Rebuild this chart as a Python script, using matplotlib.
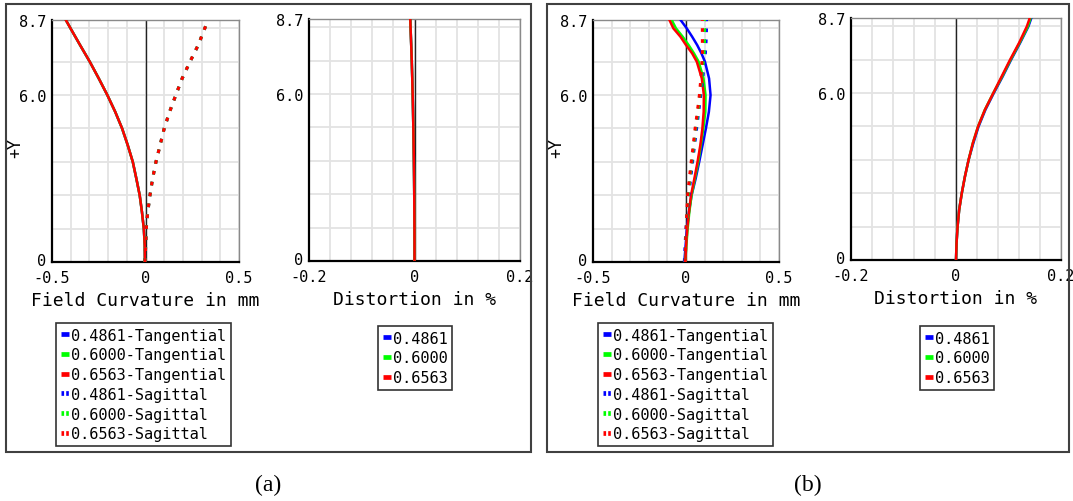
import matplotlib
matplotlib.use("Agg")
import matplotlib.pyplot as plt
from matplotlib.patches import Rectangle
from matplotlib.lines import Line2D
import matplotlib.transforms as mtransforms
import numpy as np

# ---------------- data ----------------
wavelengths = ["0.4861", "0.6000", "0.6563"]
colors = ["#0000ff", "#00ff00", "#ff0000"]

field_y = [0, 0.6, 1.2, 1.8, 2.4, 3.0, 3.6, 4.2, 4.8, 5.4, 6.0, 6.6, 7.2, 7.8, 8.4, 8.7]

# (a) field curvature (all wavelengths coincide)
a_tan = [-0.003, -0.004, -0.009, -0.019, -0.031, -0.049, -0.068, -0.095, -0.125,
         -0.162, -0.204, -0.250, -0.298, -0.350, -0.401, -0.426]
a_sag = [-0.003, 0.001, 0.004, 0.012, 0.024, 0.038, 0.056, 0.078, 0.100,
         0.129, 0.162, 0.196, 0.238, 0.282, 0.317, 0.335]
# (a) distortion (%)
a_dist = [0, 0, -0.0001, -0.0003, -0.0005, -0.0008, -0.0012, -0.0017, -0.0022,
          -0.0028, -0.0035, -0.0043, -0.0052, -0.0063, -0.0075, -0.008]

# (b) field curvature
b_y = [0, 0.6, 1.2, 1.8, 2.4, 3.0, 3.6, 4.2, 4.8, 5.4, 6.0, 6.6, 7.2, 7.5, 7.8, 8.1, 8.4, 8.7]
b_tan_blue = [-0.009, -0.002, 0.005, 0.016, 0.030, 0.052, 0.071, 0.089, 0.107, 0.123,
              0.132, 0.124, 0.102, 0.083, 0.060, 0.033, 0.004, -0.029]
b_tan_green = [-0.004, 0.002, 0.009, 0.018, 0.030, 0.048, 0.066, 0.080, 0.093, 0.104,
               0.105, 0.094, 0.068, 0.043, 0.014, -0.018, -0.054, -0.077]
b_tan_red = [-0.004, 0.001, 0.007, 0.016, 0.027, 0.045, 0.062, 0.077, 0.088, 0.095,
             0.096, 0.085, 0.058, 0.033, 0.000, -0.030, -0.068, -0.089]
b_sag_blue = [-0.009, -0.005, 0.000, 0.007, 0.015, 0.025, 0.035, 0.046, 0.057, 0.068,
              0.079, 0.090, 0.099, 0.104, 0.107, 0.109, 0.110, 0.110]
b_sag_green = [-0.004, -0.002, 0.002, 0.007, 0.012, 0.021, 0.031, 0.042, 0.052, 0.064,
               0.075, 0.085, 0.093, 0.097, 0.099, 0.100, 0.100, 0.100]
b_sag_red = [-0.004, -0.002, 0.001, 0.005, 0.009, 0.018, 0.028, 0.039, 0.049, 0.061,
             0.072, 0.080, 0.086, 0.088, 0.088, 0.088, 0.088, 0.088]
# (b) distortion (%)
b_dist_blue = [0, 0.001, 0.003, 0.006, 0.011, 0.017, 0.024, 0.033, 0.043, 0.056,
               0.072, 0.089, 0.105, 0.122, 0.138, 0.1435]
b_dist_green = [0, 0.001, 0.003, 0.006, 0.011, 0.017, 0.024, 0.032, 0.042, 0.055,
                0.071, 0.088, 0.104, 0.121, 0.137, 0.142]
b_dist_red = [0, 0.001, 0.003, 0.006, 0.011, 0.017, 0.024, 0.032, 0.042, 0.055,
              0.071, 0.087, 0.103, 0.120, 0.135, 0.1405]

fc_labels = [w + "-Tangential" for w in wavelengths] + [w + "-Sagittal" for w in wavelengths]

# ---------------- figure ----------------
W, H = 1073, 502
plt.rcParams["font.family"] = ["DejaVu Sans Mono"]
plt.rcParams["axes.unicode_minus"] = False
fig = plt.figure(figsize=(W / 100, H / 100), dpi=100)

TICK_FS = 11
LABEL_FS = 13
SOLID_LW = 1.8
DOT_LW = 2.2
DOT_STYLE = (0, (1.2, 2.4))


def add_ax(l, t, r, b):
    return fig.add_axes([l / W, 1 - b / H, (r - l) / W, (b - t) / H])


def style_ax(ax, xlim, xstep, xticks, xticklabels, xlabel):
    ax.set_xlim(*xlim)
    ax.set_ylim(0, 8.7)
    ax.set_xticks(xticks)
    ax.set_xticklabels(xticklabels)
    ax.set_xticks(np.arange(xlim[0], xlim[1] + 1e-9, xstep), minor=True)
    ax.set_yticks([0, 6.0, 8.7])
    ax.set_yticklabels(["0", "6.0", "8.7"])
    ax.set_yticks(np.arange(0, 8.7, 1.2), minor=True)
    ax.tick_params(which="both", length=0, labelsize=TICK_FS)
    ax.tick_params(axis="y", pad=4)
    ax.tick_params(axis="x", pad=6)
    # lift the bottom "0" label slightly, as in the reference
    lab0 = ax.get_yticklabels()[0]
    lab0.set_transform(lab0.get_transform() +
                       mtransforms.ScaledTranslation(0, 3 / 100, fig.dpi_scale_trans))
    ax.grid(True, which="both", color="#e3e3e3", lw=1.3, zorder=0)
    ax.set_axisbelow(True)
    for s in ("top", "right"):
        ax.spines[s].set_color("#8a8a8a")
        ax.spines[s].set_linewidth(1.0)
    for s in ("left", "bottom"):
        ax.spines[s].set_color("black")
        ax.spines[s].set_linewidth(1.6)
    ax.axvline(0, color="#222222", lw=1.0, zorder=1)
    ax.set_xlabel(xlabel, fontsize=LABEL_FS, labelpad=4)


def make_legend(handles, labels, x, y):
    leg = fig.legend(handles, labels, loc="upper left",
                     bbox_to_anchor=(x / W, 1 - y / H), bbox_transform=fig.transFigure,
                     fontsize=TICK_FS, handlelength=0.55, handletextpad=0.12,
                     borderpad=0.3, labelspacing=0.31, borderaxespad=0,
                     fancybox=False, framealpha=1, edgecolor="#333333")
    leg.get_frame().set_linewidth(1.2)


def fc_legend(x, y):
    handles = [Line2D([], [], color=c, lw=3.4, solid_capstyle="butt") for c in colors] + \
              [Line2D([], [], color=c, lw=3.4, linestyle=(0, (0.55, 0.45))) for c in colors]
    make_legend(handles, fc_labels, x, y)


def dist_legend(x, y):
    handles = [Line2D([], [], color=c, lw=3.4, solid_capstyle="butt") for c in colors]
    make_legend(handles, wavelengths, x, y)


# ---- panel (a) field curvature ----
ax1 = add_ax(52, 21, 239, 263)
style_ax(ax1, (-0.5, 0.5), 0.1, [-0.5, 0, 0.5], ["-0.5", "0", "0.5"], "Field Curvature in mm")
for c in colors:
    ax1.plot(a_tan, field_y, color=c, lw=SOLID_LW, zorder=3)
for c in colors:
    ax1.plot(a_sag, field_y, color=c, lw=DOT_LW, linestyle=DOT_STYLE, zorder=3)

# ---- panel (a) distortion ----
ax2 = add_ax(309, 20, 520, 262)
style_ax(ax2, (-0.2, 0.2), 0.04, [-0.2, 0, 0.2], ["-0.2", "0", "0.2"], "Distortion in %")
for c in colors:
    ax2.plot(a_dist, field_y, color=c, lw=SOLID_LW, zorder=3)

# ---- panel (b) field curvature ----
ax3 = add_ax(593, 21, 779, 263)
style_ax(ax3, (-0.5, 0.5), 0.1, [-0.5, 0, 0.5], ["-0.5", "0", "0.5"], "Field Curvature in mm")
for c, xs in zip(colors, [b_tan_blue, b_tan_green, b_tan_red]):
    ax3.plot(xs, b_y, color=c, lw=SOLID_LW, zorder=3)
for c, xs in zip(colors, [b_sag_blue, b_sag_green, b_sag_red]):
    ax3.plot(xs, b_y, color=c, lw=DOT_LW, linestyle=DOT_STYLE, zorder=3)

# ---- panel (b) distortion ----
ax4 = add_ax(851, 19, 1061, 261)
style_ax(ax4, (-0.2, 0.2), 0.04, [-0.2, 0, 0.2], ["-0.2", "0", "0.2"], "Distortion in %")
for c, xs in zip(colors, [b_dist_blue, b_dist_green, b_dist_red]):
    ax4.plot(xs, field_y, color=c, lw=SOLID_LW, zorder=3)

# +Y labels
fig.text(15 / W, 1 - 148 / H, "+Y", rotation=90, ha="center", va="center", fontsize=12)
fig.text(556 / W, 1 - 148 / H, "+Y", rotation=90, ha="center", va="center", fontsize=12)

# legends
fc_legend(56, 324)
dist_legend(378, 327)
fc_legend(598, 324)
dist_legend(920, 327)

# outer boxes
for (l, t, r, b) in [(6, 5, 531, 453), (547, 5, 1069, 453)]:
    fig.add_artist(Rectangle((l / W, 1 - b / H), (r - l) / W, (b - t) / H,
                             transform=fig.transFigure, fill=False,
                             edgecolor="#404040", lw=1.5))

# captions
fig.text(268 / W, 1 - 485 / H, "(a)", ha="center", va="center", fontsize=17,
         family=["Liberation Serif", "DejaVu Serif"])
fig.text(808 / W, 1 - 485 / H, "(b)", ha="center", va="center", fontsize=17,
         family=["Liberation Serif", "DejaVu Serif"])

fig.savefig("out.png", dpi=100)
